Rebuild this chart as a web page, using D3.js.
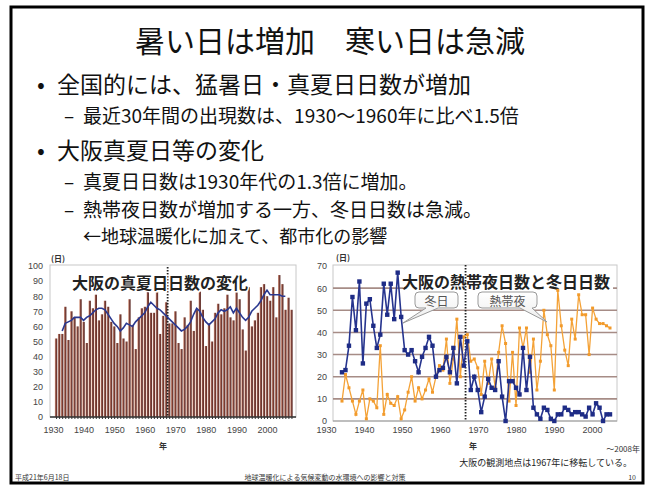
<!DOCTYPE html>
<html>
<head>
<meta charset="utf-8">
<script src="https://cdn.jsdelivr.net/npm/d3@7"></script>
<style>
  body { margin: 0; background: #fff; }
  svg { display: block; }
</style>
</head>
<body>
<svg id="slide" width="652" height="487"></svg>
<script>
// ---- data ----
const firstYear = 1931;

// 大阪の真夏日日数 1931-2008
const manatsubi = [
  52, 55, 55, 73, 51, 70, 66, 60, 78, 63,
  49, 77, 72, 81, 64, 68, 77, 73, 63, 60,
  49, 68, 52, 50, 78, 61, 45, 66, 72, 73,
  85, 69, 69, 83, 55, 67, 76, 62, 62, 70,
  49, 45, 66, 61, 77, 57, 71, 83, 71, 47,
  62, 50, 69, 75, 68, 72, 81, 66, 64, 85,
  78, 58, 44, 86, 60, 64, 69, 86, 88, 80,
  77, 86, 66, 94, 88, 71, 79, 71
];

// 5-year running mean, 1933-2006
const avgStart = 1933;
const manatsubiAvg = [
  57, 62, 63, 64, 66, 66, 66, 64, 66, 67,
  69, 71, 72, 72, 71, 68, 65, 62, 60, 57,
  59, 62, 61, 60, 63, 65, 67, 69, 73, 76,
  74, 72, 71, 69, 67, 65, 63, 61, 59, 57,
  58, 60, 63, 68, 72, 70, 66, 63, 61, 63,
  65, 69, 71, 70, 71, 73, 69, 72, 69, 66,
  64, 66, 70, 72, 74, 77, 81, 84, 81, 81,
  81, 81, 80, 80
];

// 熱帯夜日数 1931-2008
const nettaiya = [
  9, 21, 15, 9, 3, 9, 14, 1, 10, 9,
  6, 34, 3, 12, 8, 7, 11, 1, 5, 13,
  20, 9, 15, 10, 14, 19, 13, 20, 25, 23,
  37, 17, 28, 46, 20, 38, 39, 27, 28, 24,
  12, 27, 17, 28, 15, 31, 43, 35, 9, 31,
  7, 42, 33, 42, 22, 37, 14, 27, 50, 39,
  34, 14, 59, 43, 32, 25, 46, 37, 57, 48,
  48, 30, 51, 46, 44, 44, 43, 42
];

// 冬日日数 1931-2008
const fuyubi = [
  22, 23, 34, 56, 41, 63, 26, 53, 55, 43,
  33, 39, 62, 48, 62, 46, 67, 47, 32, 30,
  32, 27, 22, 29, 33, 38, 34, 20, 23, 24,
  29, 22, 33, 17, 38, 25, 36, 14, 20, 14,
  4, 11, 19, 15, 14, 27, 11, 0, 18, 18,
  15, 12, 33, 14, 29, 6, 3, 1, 6, 5,
  1, 0, 3, 3, 6, 5, 3, 4, 4, 3,
  2, 6, 3, 8, 6, 0, 3, 3
];

const leftTicksY = [0, 10, 20, 30, 40, 50, 60, 70, 80, 90, 100];
const rightTicksY = [0, 10, 20, 30, 40, 50, 60, 70];
const decadeTicks = [1930, 1940, 1950, 1960, 1970, 1980, 1990, 2000];
const moveYear = 1967;

const jp = "'Noto Sans CJK JP', 'Noto Sans', sans-serif";
const num = "'Liberation Sans', Arial, sans-serif";

const svg = d3.select("#slide");

// slide frame
svg.append("rect")
  .attr("x", 11).attr("y", 7)
  .attr("width", 632).attr("height", 476)
  .attr("fill", "#fff")
  .attr("stroke", "#000")
  .attr("stroke-width", 3);

function addText(x, y, size, txt, opts = {}) {
  return svg.append("text")
    .attr("x", x).attr("y", y)
    .attr("dominant-baseline", "central")
    .attr("text-anchor", opts.anchor || "start")
    .style("font-family", opts.font || jp)
    .style("font-size", size + "px")
    .style("font-weight", opts.weight || "normal")
    .attr("fill", opts.fill || "#111")
    .text(txt);
}

// title + bullets
addText(330, 39, 30, "暑い日は増加　寒い日は急減", { anchor: "middle" });
addText(37, 83, 23, "•");
addText(57, 83, 23, "全国的には、猛暑日・真夏日日数が増加");
addText(64, 114, 19, "–");
addText(83, 114, 19, "最近30年間の出現数は、1930〜1960年に比べ1.5倍");
addText(37, 149, 23, "•");
addText(57, 149, 23, "大阪真夏日等の変化");
addText(64, 180, 19, "–");
addText(83, 180, 19, "真夏日日数は1930年代の1.3倍に増加。");
addText(64, 208, 19, "–");
addText(83, 208, 19, "熱帯夜日数が増加する一方、冬日日数は急減。");
addText(83, 235, 18, "←地球温暖化に加えて、都市化の影響");

// ---------------- left chart ----------------
const xL = d3.scaleLinear().domain([1930, 2000]).range([53, 267]);
const yL = d3.scaleLinear().domain([0, 100]).range([417, 266]);

svg.append("rect")
  .attr("x", 50).attr("y", 265).attr("width", 246).attr("height", 152)
  .attr("fill", "#fff").attr("stroke", "#c8c8c8");

const defs = svg.append("defs");
const grad = defs.append("linearGradient").attr("id", "barGrad")
  .attr("x1", "0%").attr("x2", "100%").attr("y1", "0%").attr("y2", "0%");
grad.append("stop").attr("offset", "0%").attr("stop-color", "#e4ab92");
grad.append("stop").attr("offset", "40%").attr("stop-color", "#84463d");
grad.append("stop").attr("offset", "100%").attr("stop-color", "#5a2b27");

const barW = 2.4;
svg.append("g").selectAll("rect")
  .data(manatsubi)
  .join("rect")
  .attr("x", (d, i) => xL(firstYear + i) - barW / 2)
  .attr("y", d => yL(d))
  .attr("width", barW)
  .attr("height", d => yL(0) - yL(d))
  .attr("fill", "url(#barGrad)");

// baseline with yearly ticks
svg.append("line")
  .attr("x1", 50).attr("x2", 296).attr("y1", yL(0)).attr("y2", yL(0))
  .attr("stroke", "#333").attr("stroke-width", 1.5);

svg.append("g")
  .attr("transform", `translate(0,${yL(0)})`)
  .call(d3.axisBottom(xL).tickValues(d3.range(1931, 2009)).tickSize(2).tickFormat(""))
  .call(g => g.select(".domain").remove())
  .selectAll("line").attr("stroke", "#333");

// station-move marker
svg.append("line")
  .attr("x1", xL(moveYear + 0.5)).attr("x2", xL(moveYear + 0.5))
  .attr("y1", 267).attr("y2", yL(0))
  .attr("stroke", "#222").attr("stroke-width", 1.8)
  .attr("stroke-dasharray", "1.5,1.5");

// running mean
svg.append("path")
  .datum(manatsubiAvg)
  .attr("fill", "none")
  .attr("stroke", "#2a3890")
  .attr("stroke-width", 1.6)
  .attr("d", d3.line().x((d, i) => xL(avgStart + i)).y(d => yL(d)));

// axes
svg.append("g")
  .attr("transform", "translate(46,0)")
  .call(d3.axisLeft(yL).tickValues(leftTicksY).tickSize(0).tickPadding(3))
  .call(g => g.select(".domain").remove())
  .selectAll("text")
  .style("font-family", num).style("font-size", "9px").attr("fill", "#444");

svg.append("g")
  .attr("transform", "translate(0,427)")
  .call(d3.axisBottom(xL).tickValues(decadeTicks).tickFormat(d3.format("d")).tickSize(0).tickPadding(0))
  .call(g => g.select(".domain").remove())
  .selectAll("text")
  .style("font-family", num).style("font-size", "9px").attr("fill", "#444");

addText(58, 258, 8, "(日)", { anchor: "middle", weight: "bold", fill: "#333" });
addText(163, 445, 8, "年", { anchor: "middle", weight: "bold", fill: "#333" });

addText(160, 282, 16, "大阪の真夏日日数の変化", { anchor: "middle", weight: "bold", fill: "#222" })
  .attr("stroke", "#fff").attr("stroke-width", 3).attr("paint-order", "stroke");

// ---------------- right chart ----------------
const xR = d3.scaleLinear().domain([1931, 2008]).range([342, 610]);
const xRlab = d3.scaleLinear().domain([1930, 2000]).range([326, 592]);
const yR = d3.scaleLinear().domain([0, 70]).range([421, 266]);

svg.append("rect")
  .attr("x", 333).attr("y", 265).attr("width", 284).attr("height", 156)
  .attr("fill", "#fff").attr("stroke", "#c8c8c8");

svg.append("g").selectAll("line")
  .data(rightTicksY.slice(1, -1))
  .join("line")
  .attr("x1", 333).attr("x2", 617)
  .attr("y1", d => yR(d)).attr("y2", d => yR(d))
  .attr("stroke", "#a68c86").attr("stroke-width", 1.6);

svg.append("line")
  .attr("x1", 333).attr("x2", 617).attr("y1", yR(0)).attr("y2", yR(0))
  .attr("stroke", "#999").attr("stroke-width", 1);

svg.append("g")
  .attr("transform", "translate(330,0)")
  .call(d3.axisLeft(yR).tickValues(rightTicksY).tickSize(0).tickPadding(3))
  .call(g => g.select(".domain").remove())
  .selectAll("text")
  .style("font-family", num).style("font-size", "9px").attr("fill", "#444");

svg.append("g")
  .attr("transform", "translate(0,427)")
  .call(d3.axisBottom(xRlab).tickValues(decadeTicks).tickFormat(d3.format("d")).tickSize(0).tickPadding(0))
  .call(g => g.select(".domain").remove())
  .selectAll("text")
  .style("font-family", num).style("font-size", "9px").attr("fill", "#444");

addText(343, 257, 8, "(日)", { anchor: "middle", weight: "bold", fill: "#333" });
addText(473, 445, 8, "年", { anchor: "middle", weight: "bold", fill: "#333" });

// title on a white patch
svg.append("rect")
  .attr("x", 403).attr("y", 269).attr("width", 210).attr("height", 21)
  .attr("fill", "#fff");
addText(506, 281, 16, "大阪の熱帯夜日数と冬日日数", { anchor: "middle", weight: "bold", fill: "#222" });

// station-move marker
svg.append("line")
  .attr("x1", xR(moveYear - 0.5)).attr("x2", xR(moveYear - 0.5))
  .attr("y1", 265).attr("y2", yR(0))
  .attr("stroke", "#222").attr("stroke-width", 1.8)
  .attr("stroke-dasharray", "1.5,1.5");

const lineR = d3.line().x((d, i) => xR(firstYear + i)).y(d => yR(d));

// 熱帯夜 (orange)
svg.append("path")
  .datum(nettaiya)
  .attr("fill", "none").attr("stroke", "#f4a237").attr("stroke-width", 1.3)
  .attr("d", lineR);
svg.append("g").selectAll("rect")
  .data(nettaiya)
  .join("rect")
  .attr("x", (d, i) => xR(firstYear + i) - 1.5)
  .attr("y", d => yR(d) - 1.5)
  .attr("width", 3).attr("height", 3)
  .attr("fill", "#f29a2a");

// 冬日 (navy)
svg.append("path")
  .datum(fuyubi)
  .attr("fill", "none").attr("stroke", "#26348e").attr("stroke-width", 1.6)
  .attr("d", lineR);
svg.append("g").selectAll("rect")
  .data(fuyubi)
  .join("rect")
  .attr("x", (d, i) => xR(firstYear + i) - 2.2)
  .attr("y", d => yR(d) - 2.2)
  .attr("width", 4.4).attr("height", 4.4)
  .attr("fill", "#1e2c86");

// callouts
const cg = defs.append("linearGradient").attr("id", "callGrad")
  .attr("x1", "0%").attr("x2", "0%").attr("y1", "0%").attr("y2", "100%");
cg.append("stop").attr("offset", "0%").attr("stop-color", "#ffffff");
cg.append("stop").attr("offset", "100%").attr("stop-color", "#ececec");

function callout(x, y, w, h, b1, b2, tx, ty, label) {
  const r = 4;
  const p = d3.path();
  p.moveTo(x + r, y);
  p.lineTo(x + w - r, y);
  p.arcTo(x + w, y, x + w, y + r, r);
  p.lineTo(x + w, y + h - r);
  p.arcTo(x + w, y + h, x + w - r, y + h, r);
  p.lineTo(b2, y + h);
  p.lineTo(tx, ty);
  p.lineTo(b1, y + h);
  p.lineTo(x + r, y + h);
  p.arcTo(x, y + h, x, y + h - r, r);
  p.lineTo(x, y + r);
  p.arcTo(x, y, x + r, y, r);
  p.closePath();
  svg.append("path").attr("d", p.toString())
    .attr("fill", "url(#callGrad)").attr("stroke", "#999").attr("stroke-width", 1);
  addText(x + w / 2, y + h / 2, 12, label, { anchor: "middle", fill: "#555" });
}
callout(415, 292, 43, 16, 426, 438, 403, 323, "冬日");
callout(478, 292, 59, 16, 520, 532, 547, 322, "熱帯夜");

// notes and footer
addText(640, 448, 8, "～2008年", { anchor: "end", fill: "#333" });
addText(632, 462, 9, "大阪の観測地点は1967年に移転している。", { anchor: "end", fill: "#222" });
addText(15, 477, 7, "平成21年6月18日", { fill: "#333" });
addText(325, 477, 7, "地球温暖化による気候変動の水環境への影響と対策", { anchor: "middle", fill: "#333" });
addText(636, 477, 7, "10", { anchor: "end", fill: "#333" });
</script>
</body>
</html>
